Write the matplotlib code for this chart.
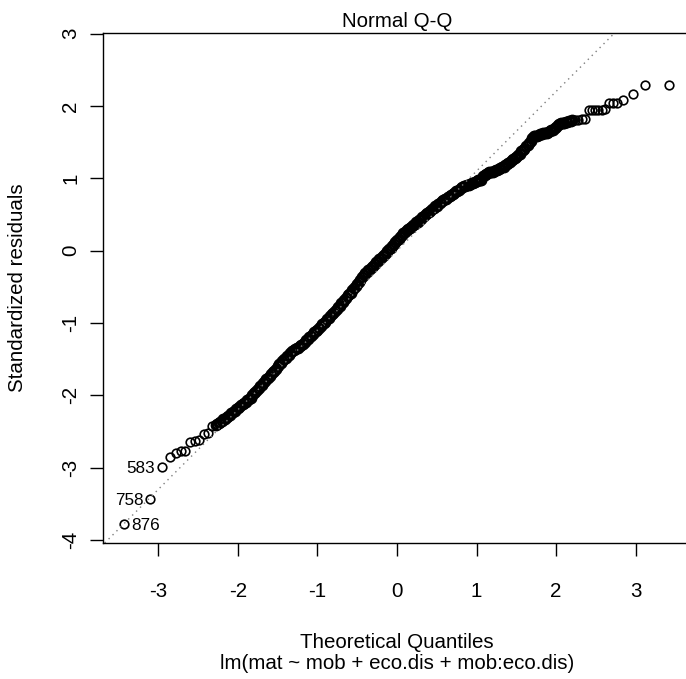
import matplotlib
matplotlib.use("Agg")
import matplotlib.pyplot as plt

plt.rcParams['font.family'] = ['Liberation Sans', 'DejaVu Sans']

# theoretical quantiles / standardized residuals
low_x = [-3.43, -3.10, -2.95, -2.85, -2.78, -2.71, -2.66, -2.60, -2.54, -2.49, -2.43, -2.37, -2.32]
low_y = [-3.78, -3.43, -2.99, -2.85, -2.80, -2.77, -2.765, -2.64, -2.63, -2.61, -2.535, -2.52, -2.43]

mid_x = [-2.28, -2.24, -2.20, -2.16, -2.12, -2.08, -2.04, -2.00, -1.96, -1.92,
         -1.88, -1.84, -1.80, -1.76, -1.72, -1.68, -1.64, -1.60, -1.56, -1.52,
         -1.48, -1.44, -1.40, -1.36, -1.32, -1.28, -1.24, -1.20, -1.16, -1.12,
         -1.08, -1.04, -1.00, -0.96, -0.92, -0.88, -0.84, -0.80, -0.76, -0.72,
         -0.68, -0.64, -0.60, -0.56, -0.52, -0.48, -0.44, -0.40, -0.36, -0.32,
         -0.28, -0.24, -0.20, -0.16, -0.12, -0.08, -0.04, 0.00, 0.04, 0.08,
         0.12, 0.16, 0.20, 0.24, 0.28, 0.32, 0.36, 0.40, 0.44, 0.48,
         0.52, 0.56, 0.60, 0.64, 0.68, 0.72, 0.76, 0.80, 0.84, 0.88,
         0.92, 0.96, 1.00, 1.04, 1.08, 1.12, 1.16, 1.20, 1.24, 1.28,
         1.32, 1.36, 1.40, 1.44, 1.48, 1.52, 1.56, 1.60, 1.64, 1.68,
         1.72, 1.76, 1.80, 1.84, 1.88, 1.92, 1.96, 2.00, 2.04, 2.08,
         2.12, 2.16, 2.20]
mid_y = [-2.41, -2.38, -2.35, -2.32, -2.28, -2.25, -2.21, -2.17, -2.14, -2.11,
         -2.07, -2.03, -1.97, -1.92, -1.87, -1.83, -1.78, -1.73, -1.68, -1.63,
         -1.57, -1.52, -1.48, -1.44, -1.39, -1.36, -1.34, -1.31, -1.26, -1.22,
         -1.18, -1.13, -1.09, -1.04, -1.00, -0.95, -0.91, -0.86, -0.81, -0.76,
         -0.71, -0.65, -0.60, -0.55, -0.49, -0.43, -0.37, -0.31, -0.27, -0.23,
         -0.19, -0.14, -0.10, -0.06, -0.01, 0.04, 0.09, 0.14, 0.19, 0.24,
         0.28, 0.31, 0.35, 0.39, 0.42, 0.46, 0.50, 0.53, 0.57, 0.61,
         0.64, 0.68, 0.71, 0.74, 0.77, 0.80, 0.83, 0.86, 0.89, 0.90,
         0.92, 0.94, 0.96, 0.98, 1.03, 1.06, 1.08, 1.09, 1.11, 1.13,
         1.15, 1.18, 1.21, 1.25, 1.28, 1.32, 1.37, 1.41, 1.46, 1.52,
         1.58, 1.59, 1.61, 1.62, 1.63, 1.65, 1.67, 1.71, 1.75, 1.77,
         1.78, 1.79, 1.80]

# points lying between the ones above in the dense band
mid2_x = [-2.26, -2.22, -2.18, -2.14, -2.10, -2.06, -2.02, -1.98, -1.94, -1.90,
          -1.86, -1.82, -1.78, -1.74, -1.70, -1.66, -1.62, -1.58, -1.54, -1.50,
          -1.46, -1.42, -1.38, -1.34, -1.30, -1.26, -1.22, -1.18, -1.14, -1.10,
          -1.06, -1.02, -0.98, -0.94, -0.90, -0.86, -0.82, -0.78, -0.74, -0.70,
          -0.66, -0.62, -0.58, -0.54, -0.50, -0.46, -0.42, -0.38, -0.34, -0.30,
          -0.26, -0.22, -0.18, -0.14, -0.10, -0.06, -0.02, 0.02, 0.06, 0.10,
          0.14, 0.18, 0.22, 0.26, 0.30, 0.34, 0.38, 0.42, 0.46, 0.50,
          0.54, 0.58, 0.62, 0.66, 0.70, 0.74, 0.78, 0.82, 0.86, 0.90,
          0.94, 0.98, 1.02, 1.06, 1.10, 1.14, 1.18, 1.22, 1.26, 1.30,
          1.34, 1.38, 1.42, 1.46, 1.50, 1.54, 1.58, 1.62, 1.66, 1.70,
          1.74, 1.78, 1.82, 1.86, 1.90, 1.94, 1.98, 2.02, 2.06, 2.10,
          2.14, 2.18]
mid2_y = [-2.40, -2.37, -2.33, -2.30, -2.27, -2.23, -2.19, -2.16, -2.12, -2.09,
          -2.05, -2.00, -1.95, -1.90, -1.85, -1.80, -1.76, -1.70, -1.66, -1.60,
          -1.55, -1.50, -1.46, -1.42, -1.37, -1.35, -1.32, -1.29, -1.24, -1.20,
          -1.15, -1.11, -1.07, -1.02, -0.98, -0.93, -0.88, -0.83, -0.78, -0.73,
          -0.68, -0.62, -0.58, -0.52, -0.46, -0.40, -0.34, -0.29, -0.25, -0.21,
          -0.16, -0.12, -0.08, -0.03, 0.02, 0.06, 0.12, 0.16, 0.22, 0.26,
          0.30, 0.33, 0.37, 0.40, 0.44, 0.48, 0.52, 0.55, 0.59, 0.62,
          0.66, 0.70, 0.72, 0.76, 0.78, 0.82, 0.84, 0.88, 0.89, 0.91,
          0.93, 0.95, 0.97, 0.98, 1.04, 1.07, 1.08, 1.10, 1.12, 1.14,
          1.16, 1.20, 1.23, 1.26, 1.30, 1.34, 1.39, 1.44, 1.49, 1.55,
          1.58, 1.60, 1.61, 1.62, 1.64, 1.66, 1.69, 1.73, 1.76, 1.77,
          1.78, 1.79]

high_x = [2.24, 2.28, 2.32, 2.36, 2.41, 2.45, 2.49, 2.53, 2.57, 2.61, 2.66, 2.72, 2.77, 2.84, 2.96, 3.11, 3.42]
high_y = [1.81, 1.81, 1.814, 1.814, 1.943, 1.943, 1.943, 1.943, 1.943, 1.95, 2.035, 2.035, 2.035, 2.08, 2.16, 2.29, 2.29]

# labelled extreme observations
id_labels = ['876', '758', '583']
id_x = [-3.43, -3.10, -2.95]
id_y = [-3.78, -3.43, -2.99]

# reference line through the quartiles
line_intercept = 0.0
line_slope = 1.10

x_ticks = [-3, -2, -1, 0, 1, 2, 3]
y_ticks = [-4, -3, -2, -1, 0, 1, 2, 3]

W, H = 686, 679
fig = plt.figure(figsize=(W / 100, H / 100), dpi=100)
ax = fig.add_axes([103 / W, 1 - 543 / H, (691 - 103) / W, (543 - 33) / H])

# sparse tails
ax.plot(low_x + high_x, low_y + high_y, linestyle='none', marker='o', markersize=6.2,
        markerfacecolor='none', markeredgecolor='black', markeredgewidth=1.2)
# dense middle: many overlapping circles merge into a heavy band
ax.plot(mid_x + mid2_x, mid_y + mid2_y, linestyle='none', marker='o', markersize=6.8,
        markerfacecolor='none', markeredgecolor='black', markeredgewidth=1.7)

ax.axline((0, line_intercept), slope=line_slope, color='#7f7f7f',
          linewidth=1.0, linestyle=(0, (1, 3)))

for lab, x, y in zip(id_labels, id_x, id_y):
    if lab == '876':
        ax.annotate(lab, (x, y), xytext=(5, -1), textcoords='offset points',
                    ha='left', va='center', fontsize=12.3)
    else:
        ax.annotate(lab, (x, y), xytext=(-5, -1), textcoords='offset points',
                    ha='right', va='center', fontsize=12.3)

ax.set_xlim(-3.694, 3.694)
ax.set_ylim(-4.04, 3.007)
ax.set_xticks(x_ticks)
ax.set_yticks(y_ticks)
ax.set_xticklabels([str(t) for t in x_ticks])
ax.set_yticklabels([str(t) for t in y_ticks], rotation=90, va='center')
ax.tick_params(axis='both', direction='out', length=9.4, width=1.0, labelsize=14.8)
ax.tick_params(axis='x', pad=19)
ax.tick_params(axis='y', pad=7)
for s in ax.spines.values():
    s.set_linewidth(1.0)

cx = (103 + 691) / 2 / W
fig.text(cx, 1 - 26.7 / H, 'Normal Q-Q', ha='center', va='baseline', fontsize=14.8)
fig.text(cx, 1 - 648 / H, 'Theoretical Quantiles', ha='center', va='baseline', fontsize=14.8)
fig.text(cx, 1 - 669 / H, 'lm(mat ~ mob + eco.dis + mob:eco.dis)', ha='center',
         va='baseline', fontsize=14.8)
fig.text(18 / W, 1 - 288 / H, 'Standardized residuals', rotation=90, ha='center',
         va='center', fontsize=14.8)

fig.savefig('out.png', dpi=100)
